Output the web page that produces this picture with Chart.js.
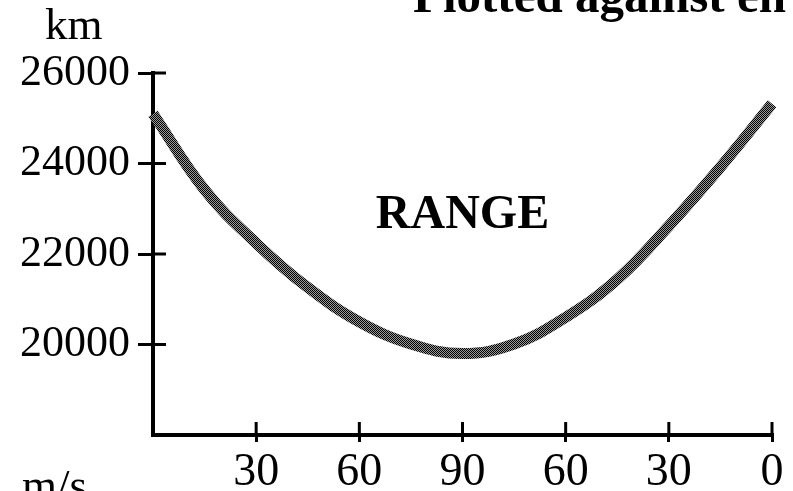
<!DOCTYPE html>
<html>
<head>
<meta charset="utf-8">
<title>Range</title>
<script src="https://cdn.jsdelivr.net/npm/chart.js@4"></script>
<style>
  html, body { margin: 0; padding: 0; background: #fff; }
  canvas { display: block; }
</style>
</head>
<body>
<canvas id="rangeChart" width="793" height="491"></canvas>
<script>
// values
const speeds = [0, 15, 30, 45, 60, 75, 90, 105, 120, 135, 150, 165, 180];
const rangeKm = [25100, 23420, 22240, 21260, 20500, 20010, 19800, 20010, 20600, 21440, 22620, 23920, 25320];

const xTickValues = [0, 30, 60, 90, 120, 150, 180];
const xTickLabels = ['', '30', '60', '90', '60', '30', '0'];
const yTickValues = [18000, 20000, 22000, 24000, 26000];
const yTickLabels = ['', '20000', '22000', '24000', '26000'];

function xLabel(v) {
  const i = xTickValues.indexOf(v);
  return i >= 0 ? xTickLabels[i] : '';
}
function yLabel(v) {
  const i = yTickValues.indexOf(v);
  return i >= 0 ? yTickLabels[i] : '';
}

// halftone look of the printed curve
function halftone() {
  const c = document.createElement('canvas');
  c.width = 2;
  c.height = 2;
  const g = c.getContext('2d');
  g.fillStyle = '#9a9a9a';
  g.fillRect(0, 0, 2, 2);
  g.fillStyle = '#000';
  g.fillRect(0, 0, 1, 1);
  g.fillRect(1, 1, 1, 1);
  return g.createPattern(c, 'repeat');
}

const serif = '"Liberation Serif", "Times New Roman", serif';

const extras = {
  id: 'extras',
  afterDraw(chart) {
    const { ctx, chartArea } = chart;
    const x = chart.scales.x;
    const y = chart.scales.y;
    ctx.save();
    ctx.strokeStyle = '#000';
    ctx.lineWidth = 3;
    // inner half of the crossing tick marks
    yTickValues.forEach(v => {
      if (!yLabel(v)) return;
      const py = y.getPixelForValue(v);
      ctx.beginPath();
      ctx.moveTo(chartArea.left, py);
      ctx.lineTo(chartArea.left + 13, py);
      ctx.stroke();
    });
    xTickValues.forEach(v => {
      if (!xLabel(v)) return;
      const px = x.getPixelForValue(v);
      ctx.beginPath();
      ctx.moveTo(px, chartArea.bottom);
      ctx.lineTo(px, chartArea.bottom - 13);
      ctx.stroke();
    });

    ctx.fillStyle = '#000';
    ctx.textBaseline = 'alphabetic';
    ctx.textAlign = 'left';
    ctx.font = 'bold 49px ' + serif;
    ctx.fillText('Plotted against en', 413, 12);

    ctx.font = '45px ' + serif;
    ctx.fillText('km', 45, 39);
    ctx.fillText('m/s', 22, 500);

    ctx.font = 'bold 48px ' + serif;
    ctx.textAlign = 'center';
    ctx.textBaseline = 'middle';
    ctx.fillText('RANGE', x.getPixelForValue(90), y.getPixelForValue(22850));
    ctx.restore();
  }
};

new Chart(document.getElementById('rangeChart'), {
  type: 'line',
  data: {
    datasets: [{
      label: 'Range',
      data: speeds.map((s, i) => ({ x: s, y: rangeKm[i] })),
      borderColor: halftone(),
      borderWidth: 11,
      borderCapStyle: 'butt',
      pointRadius: 0,
      tension: 0.4,
      fill: false,
      clip: false
    }]
  },
  options: {
    responsive: false,
    animation: false,
    layout: { padding: { top: 73, right: 21, left: 0, bottom: 0 } },
    plugins: {
      legend: { display: false },
      tooltip: { enabled: false }
    },
    scales: {
      x: {
        type: 'linear',
        min: 0,
        max: 180,
        afterFit: s => { s.height = 56; },
        afterBuildTicks: s => { s.ticks = xTickValues.map(v => ({ value: v })); },
        border: { display: true, color: '#000', width: 4 },
        grid: {
          drawOnChartArea: false,
          drawTicks: true,
          tickLength: 7,
          lineWidth: 3,
          color: c => (c.tick && xLabel(c.tick.value) ? '#000' : 'rgba(0,0,0,0)')
        },
        ticks: {
          color: '#000',
          padding: 3,
          maxRotation: 0,
          autoSkip: false,
          font: { family: serif, size: 46 },
          callback: v => xLabel(v)
        }
      },
      y: {
        min: 18000,
        max: 26000,
        afterFit: s => { s.width = 153; },
        afterBuildTicks: s => { s.ticks = yTickValues.map(v => ({ value: v })); },
        border: { display: true, color: '#000', width: 4 },
        grid: {
          drawOnChartArea: false,
          drawTicks: true,
          tickLength: 15,
          lineWidth: 3,
          color: c => (c.tick && yLabel(c.tick.value) ? '#000' : 'rgba(0,0,0,0)')
        },
        ticks: {
          color: '#000',
          padding: 8,
          autoSkip: false,
          font: { family: serif, size: 44 },
          callback: v => yLabel(v)
        }
      }
    }
  },
  plugins: [extras]
});
</script>
</body>
</html>
